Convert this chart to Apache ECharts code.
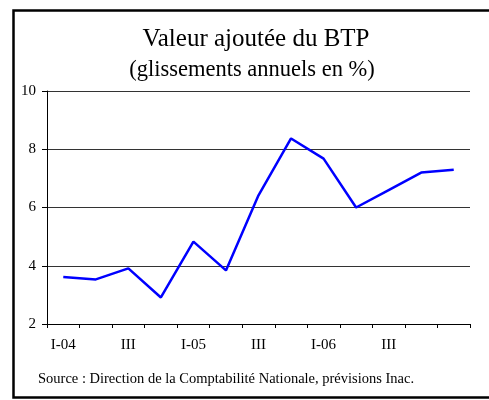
<!DOCTYPE html>
<html>

<head>
    <meta charset="utf-8">
    <script src="https://cdn.jsdelivr.net/npm/echarts@6.0.0/dist/echarts.min.js"></script>
    <style>
        body { margin: 0; background: #fff; }
    </style>
</head>

<body>
    <div id="echartsMain" style="width: 489px; height: 400px;"></div>
</body>

</html>

<script type="text/javascript">
    // trimestres 2004 - 2007
    let quarters = ['I-04', 'II-04', 'III-04', 'IV-04', 'I-05', 'II-05', 'III-05', 'IV-05', 'I-06', 'II-06', 'III-06', 'IV-06', 'I-07']
    let tickLabels = ['I-04', '', 'III', '', 'I-05', '', 'III', '', 'I-06', '', 'III', '', '']
    let valeurAjoutee = [3.61, 3.53, 3.91, 2.91, 4.83, 3.84, 6.42, 8.37, 7.68, 6.0, 6.6, 7.2, 7.3]

    let myChart = echarts.init(document.getElementById('echartsMain'))

    let serif = '"Liberation Serif", "Times New Roman", serif'

    var option = {
        animation: false,
        backgroundColor: '#fff',
        title: [{
            text: 'Valeur ajoutée du BTP',
            left: 251,
            top: 22,
            textAlign: 'center',
            textStyle: { fontFamily: serif, fontSize: 25, fontWeight: 'normal', color: '#000' }
        }, {
            text: '(glissements annuels en %)',
            left: 247,
            top: 54,
            textAlign: 'center',
            textStyle: { fontFamily: serif, fontSize: 22.5, fontWeight: 'normal', color: '#000' }
        }, {
            text: 'Source : Direction de la Comptabilité Nationale, prévisions Inac.',
            left: 33,
            top: 367,
            textStyle: { fontFamily: serif, fontSize: 14.5, fontWeight: 'normal', color: '#000' }
        }],
        graphic: [{
            type: 'rect',
            shape: { x: 13.5, y: 10.5, width: 490, height: 387 },
            style: { fill: 'none', stroke: '#000', lineWidth: 2.5 },
            z: 10
        }],
        grid: {
            left: 47,
            right: 19,
            top: 91,
            bottom: 76
        },
        xAxis: {
            type: 'category',
            data: quarters,
            boundaryGap: true,
            axisLine: { lineStyle: { color: '#000', width: 1 } },
            axisTick: { show: true, length: 4, inside: false, interval: 0, lineStyle: { color: '#000' } },
            axisLabel: {
                interval: 0,
                margin: 14,
                fontFamily: serif,
                fontSize: 15,
                color: '#000',
                formatter: (v, i) => tickLabels[i]
            },
            splitLine: { show: false }
        },
        yAxis: {
            type: 'value',
            min: 2,
            max: 10,
            interval: 2,
            axisLine: { show: true, lineStyle: { color: '#000', width: 1 } },
            axisTick: { show: true, length: 5, lineStyle: { color: '#000' } },
            axisLabel: { fontFamily: serif, fontSize: 15, color: '#000', margin: 11 },
            splitLine: { show: true, lineStyle: { color: '#333', width: 1 } }
        },
        series: [{
            name: 'Valeur ajoutée',
            type: 'line',
            data: valeurAjoutee,
            symbol: 'none',
            lineStyle: { color: '#0000ff', width: 2.5 }
        }]
    }
    myChart.setOption(option)
</script>
